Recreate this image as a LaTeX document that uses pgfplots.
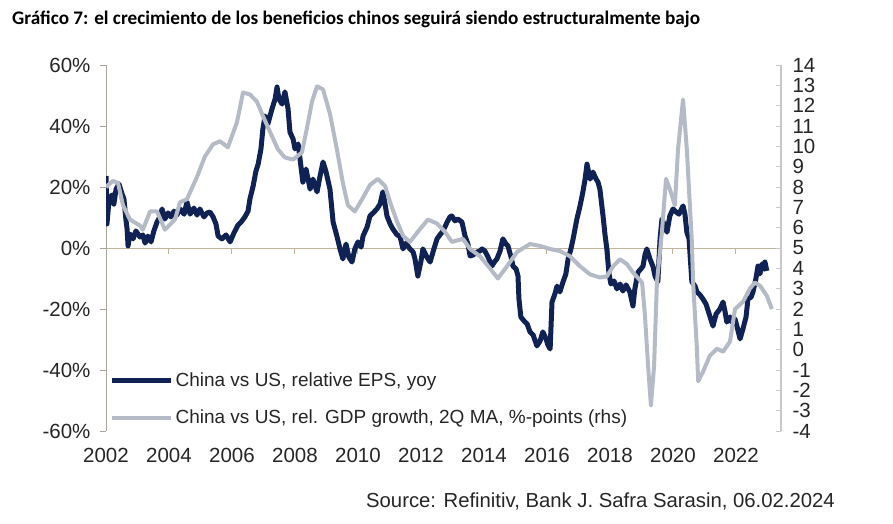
\documentclass[border=0pt]{standalone}
\usepackage{fontspec}
\setmainfont{Liberation Sans}
\newfontfamily\titlefont{Carlito}
\usepackage{pgfplots}
\usepackage{pgfplotstable}
\pgfplotsset{compat=1.18}
\definecolor{navy}{RGB}{16,33,84}
\definecolor{lgray}{RGB}{180,186,198}
\definecolor{axgray}{RGB}{170,165,155}
\definecolor{zeroline}{RGB}{192,180,155}
\definecolor{raxis}{RGB}{200,200,200}
\definecolor{txt}{RGB}{38,38,38}

\pgfplotstableread{
x y
2002.00 23.6
2002.03 7.9
2002.10 16.1
2002.19 17.4
2002.25 14.4
2002.32 19.3
2002.41 21.0
2002.51 17.7
2002.57 16.1
2002.63 9.5
2002.67 6.2
2002.70 0.7
2002.76 4.6
2002.86 3.0
2002.95 5.6
2003.08 3.6
2003.17 4.3
2003.24 1.6
2003.33 3.9
2003.43 2.0
2003.52 5.6
2003.62 8.5
2003.71 10.2
2003.78 12.8
2003.87 9.5
2003.97 11.5
2004.06 10.2
2004.16 12.1
2004.25 10.8
2004.35 12.8
2004.48 11.1
2004.57 15.1
2004.67 11.1
2004.79 13.1
2004.89 10.8
2004.98 12.8
2005.11 10.2
2005.21 11.5
2005.30 11.8
2005.40 10.2
2005.49 7.9
2005.56 3.9
2005.68 3.0
2005.81 4.3
2005.94 2.0
2006.06 4.9
2006.19 7.5
2006.29 8.5
2006.41 10.2
2006.51 12.1
2006.57 16.1
2006.67 20.3
2006.76 25.2
2006.83 27.5
2006.92 32.5
2006.98 39.0
2007.05 43.3
2007.14 40.7
2007.27 45.6
2007.37 48.9
2007.43 52.8
2007.49 48.9
2007.59 47.2
2007.68 51.2
2007.78 45.6
2007.84 38.0
2007.94 35.7
2008.00 32.5
2008.10 34.1
2008.16 29.2
2008.25 21.6
2008.35 25.9
2008.48 19.3
2008.57 22.6
2008.70 18.4
2008.79 23.3
2008.89 28.2
2008.98 25.2
2009.11 19.3
2009.21 8.5
2009.33 3.9
2009.43 -0.3
2009.52 -3.6
2009.62 1.3
2009.71 -3.0
2009.81 -4.6
2009.90 -0.3
2010.00 2.0
2010.10 0.3
2010.16 3.9
2010.29 6.9
2010.38 10.5
2010.51 11.8
2010.60 12.8
2010.70 14.4
2010.79 18.4
2010.86 14.4
2010.92 10.5
2011.02 7.9
2011.11 6.2
2011.24 4.3
2011.33 3.9
2011.43 -0.3
2011.52 1.6
2011.65 -0.3
2011.75 -1.3
2011.81 -3.6
2011.90 -9.2
2012.00 -4.3
2012.06 -0.3
2012.19 -3.0
2012.29 -4.6
2012.41 -0.3
2012.51 3.0
2012.60 4.3
2012.67 5.2
2012.76 6.9
2012.83 8.5
2012.92 10.2
2012.98 10.5
2013.08 8.9
2013.17 9.5
2013.30 8.5
2013.40 3.9
2013.49 1.3
2013.56 -2.6
2013.65 -2.3
2013.78 -1.3
2013.87 -1.0
2013.94 -0.3
2014.03 -1.0
2014.13 -3.0
2014.25 -5.9
2014.35 -4.3
2014.41 -3.6
2014.51 -1.0
2014.60 3.0
2014.70 1.3
2014.76 0.7
2014.86 -3.0
2014.92 -5.9
2015.02 -6.9
2015.08 -9.2
2015.11 -16.7
2015.17 -22.6
2015.27 -23.9
2015.37 -24.9
2015.46 -27.5
2015.56 -28.5
2015.68 -32.1
2015.78 -30.5
2015.87 -27.5
2015.97 -29.8
2016.03 -31.8
2016.10 -33.1
2016.16 -17.7
2016.25 -15.1
2016.32 -12.5
2016.41 -14.4
2016.51 -11.1
2016.60 -8.5
2016.67 -3.6
2016.76 -0.3
2016.83 3.0
2016.92 7.9
2016.95 9.5
2017.05 13.8
2017.14 18.4
2017.21 22.6
2017.27 27.5
2017.37 22.6
2017.46 24.9
2017.56 22.6
2017.62 21.6
2017.68 19.3
2017.78 10.5
2017.84 4.6
2017.90 -0.3
2017.97 -8.5
2018.03 -11.8
2018.13 -10.8
2018.22 -13.4
2018.32 -11.8
2018.41 -14.1
2018.51 -12.1
2018.63 -14.4
2018.73 -19.0
2018.79 -13.4
2018.89 -7.9
2018.98 -6.9
2019.05 -5.9
2019.11 -2.3
2019.17 -0.3
2019.27 -3.6
2019.37 -6.2
2019.43 -9.2
2019.52 -11.1
2019.59 3.0
2019.65 9.5
2019.75 6.9
2019.81 5.2
2019.90 10.5
2020.00 12.8
2020.10 11.8
2020.19 11.1
2020.32 13.8
2020.38 11.1
2020.44 5.2
2020.51 3.0
2020.60 -11.1
2020.70 -12.5
2020.76 -14.4
2020.86 -15.4
2020.95 -16.7
2021.05 -18.4
2021.17 -22.3
2021.27 -25.6
2021.37 -21.6
2021.49 -20.0
2021.59 -17.7
2021.65 -20.7
2021.71 -24.3
2021.81 -22.6
2021.87 -24.3
2021.97 -23.3
2022.03 -25.6
2022.13 -29.8
2022.22 -26.6
2022.32 -22.6
2022.38 -16.7
2022.48 -16.1
2022.54 -14.4
2022.63 -10.2
2022.70 -5.9
2022.76 -8.5
2022.83 -5.2
2022.89 -6.9
2022.92 -4.6
2022.98 -7.5
}\epsdata

\pgfplotstableread{
x y
2002.00 8.0
2002.22 8.3
2002.38 8.2
2002.54 7.1
2002.76 6.4
2003.08 6.1
2003.17 5.9
2003.40 6.8
2003.62 6.8
2003.87 5.9
2004.19 6.4
2004.35 7.25
2004.57 7.4
2004.89 8.5
2005.14 9.5
2005.40 10.1
2005.62 10.25
2005.87 9.95
2006.16 11.2
2006.35 12.65
2006.57 12.55
2006.79 12.2
2006.98 11.5
2007.21 10.7
2007.46 9.85
2007.68 9.45
2007.94 9.35
2008.22 9.7
2008.38 10.9
2008.54 12.2
2008.70 12.95
2008.89 12.8
2009.11 11.6
2009.33 9.85
2009.52 8.2
2009.68 7.1
2009.90 6.8
2010.13 7.4
2010.38 8.1
2010.63 8.4
2010.86 8.05
2011.02 7.25
2011.24 6.3
2011.43 5.6
2011.65 5.3
2011.90 5.8
2012.22 6.4
2012.51 6.2
2012.76 5.8
2012.98 5.3
2013.33 5.45
2013.56 4.95
2013.87 4.6
2014.19 4.0
2014.44 3.5
2014.73 4.1
2015.05 4.8
2015.46 5.2
2015.78 5.1
2016.10 4.95
2016.41 4.85
2016.73 4.6
2017.05 4.1
2017.37 3.7
2017.68 3.55
2017.90 3.6
2018.10 4.1
2018.32 4.45
2018.54 4.2
2018.73 3.8
2019.02 3.3
2019.11 1.7
2019.21 -0.8
2019.30 -2.75
2019.40 -0.8
2019.49 3.3
2019.65 5.8
2019.78 8.4
2019.90 7.9
2020.06 7.1
2020.16 9.85
2020.32 12.3
2020.44 9.85
2020.60 5.3
2020.64 3.3
2020.76 0.05
2020.80 -1.55
2020.95 -1.1
2021.17 -0.3
2021.40 0.05
2021.59 -0.1
2021.81 0.4
2021.97 2.0
2022.22 2.35
2022.44 3.0
2022.60 3.3
2022.76 3.15
2022.98 2.65
2023.14 2.0
}\gdpdata

\pgfplotsset{
  base/.style={
    width=675pt, height=366pt, scale only axis,
    at={(106pt,92pt)}, anchor=south west,
    xmin=2002, xmax=2023.43,
    ticklabel style={font=\fontsize{20.5}{24}\selectfont, text=txt},
    major tick length=6pt,
  }
}

\begin{document}
\begin{tikzpicture}[x=1pt,y=1pt]
\useasboundingbox (0,0) rectangle (893,523);
\node[anchor=base west, inner sep=0, font=\titlefont\bfseries\fontsize{19.2}{22}\selectfont] at (12,498) {Gráfico 7: el crecimiento de los beneficios chinos seguirá siendo estructuralmente bajo};
\node[anchor=base east, inner sep=0, font=\fontsize{20.3}{24}\selectfont, text=txt] at (835,16) {Source: Refinitiv, Bank J. Safra Sarasin, 06.02.2024};

% zero line with x ticks
\begin{axis}[base, ymin=-60, ymax=60,
  axis x line=middle, axis y line=none,
  x axis line style={zeroline, line width=1pt, -},
  xtick={2002,2004,...,2022}, xticklabels={},
  tick align=outside, xtick style={zeroline, line width=1pt}]
\end{axis}

% left axis: EPS
\begin{axis}[base, ymin=-60, ymax=60,
  axis y line*=left, axis x line*=bottom,
  x axis line style={draw=none},
  y axis line style={axgray, line width=1pt, -},
  ytick={-60,-40,...,60},
  yticklabels={-60\%,-40\%,-20\%,0\%,20\%,40\%,60\%},
  ytick style={axgray, line width=1pt},
  yticklabel style={xshift=-6pt},
  tick align=outside,
  xtick={2002,2004,...,2022},
  xticklabels={2002,2004,2006,2008,2010,2012,2014,2016,2018,2020,2022},
  xtick style={draw=none},
  xticklabel style={yshift=-8pt},
  ]
\addplot[navy, line width=5pt, line join=round] table[x=x,y=y] {\epsdata};
\end{axis}

% right axis: GDP
\begin{axis}[base, ymin=-4, ymax=14,
  axis y line*=right, axis x line=none,
  y axis line style={raxis, line width=1.2pt, -},
  ytick={-4,-3,...,14},
  yticklabels={-4,-3,-2,-1,0,1,2,3,4,5,6,7,8,9,10,11,12,13,14},
  ytick style={raxis, line width=1pt},
  yticklabel style={xshift=8pt},
  tick align=inside, major tick length=5pt,
  legend style={at={(axis description cs:0.005,0.01)}, anchor=south west,
    draw=none, fill=none, font=\fontsize{19}{22}\selectfont, text=txt,
    row sep=18pt, inner sep=0pt},
  legend cell align=left,
  legend image code/.code={\draw[#1] (0pt,0pt) -- (59pt,0pt);},
  ]
\addlegendimage{navy, line width=5pt}
\addlegendentry{China vs US, relative EPS, yoy}
\addplot[lgray, line width=4pt, line join=round] table[x=x,y=y] {\gdpdata};
\addlegendentry{China vs US, rel. GDP growth, 2Q MA, \%-points (rhs)}
\end{axis}
\end{tikzpicture}
\end{document}
